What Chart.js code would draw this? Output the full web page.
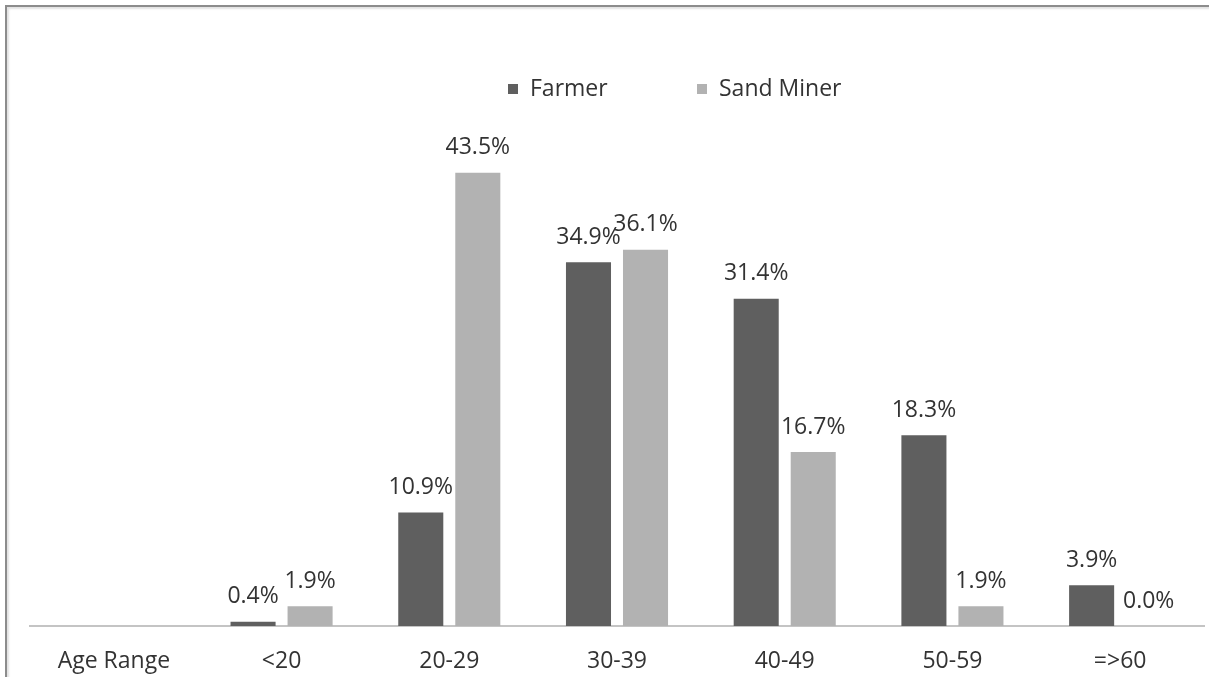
<!DOCTYPE html>
<html>
<head>
<meta charset="utf-8">
<script src="https://cdn.jsdelivr.net/npm/chart.js@4/dist/chart.umd.min.js"></script>
<style>
  html, body { margin: 0; padding: 0; background: #fff; overflow: hidden; }
  #frame {
    position: absolute; left: 5px; top: 5px; width: 1230px; height: 670px;
    border-left: 2px solid #8c8c8c; border-top: 2px solid #8c8c8c;
    border-bottom: 1px solid #e4e4e4;
    box-shadow: inset 2px 2px 2px #e2e2e2;
  }
  #wrap { position: absolute; left: 0; top: 0; width: 1209px; height: 677px; }
</style>
</head>
<body>
<div id="frame"></div>
<div id="wrap"><canvas id="myChart"></canvas></div>
<script>
const categories = ['Age Range', '<20', '20-29', '30-39', '40-49', '50-59', '=>60'];
const farmer = [null, 0.4, 10.9, 34.9, 31.4, 18.3, 3.9];
const sandMiner = [null, 1.9, 43.5, 36.1, 16.7, 1.9, 0.0];

const fontFam = '"Open Sans", sans-serif';
const textColor = '#333333';

// labels on top of each bar
const labelPlugin = {
    id: 'barLabels',
    afterDatasetsDraw(chart) {
        const ctx = chart.ctx;
        ctx.save();
        ctx.font = '23px ' + fontFam;
        ctx.fillStyle = textColor;
        ctx.textAlign = 'center';
        ctx.textBaseline = 'middle';
        chart.data.datasets.forEach((ds, i) => {
            chart.getDatasetMeta(i).data.forEach((bar, j) => {
                const v = ds.data[j];
                if (v === null) return;
                ctx.fillText(v.toFixed(1) + '%', bar.x, bar.y - 25);
            });
        });
        ctx.restore();
    }
};

// legend drawn like the excel one
const legendPlugin = {
    id: 'topLegend',
    afterDraw(chart) {
        const ctx = chart.ctx;
        const xs = [508, 697];
        const y = 89;
        ctx.save();
        ctx.font = '23px ' + fontFam;
        ctx.textBaseline = 'middle';
        chart.data.datasets.forEach((ds, i) => {
            ctx.fillStyle = ds.backgroundColor;
            ctx.fillRect(xs[i], y - 5, 10, 10);
            ctx.fillStyle = textColor;
            ctx.fillText(ds.label, xs[i] + 22, y);
        });
        ctx.restore();
    }
};

new Chart(document.getElementById('myChart'), {
    type: 'bar',
    data: {
        labels: categories,
        datasets: [
            { label: 'Farmer', data: farmer, backgroundColor: '#5f5f5f' },
            { label: 'Sand Miner', data: sandMiner, backgroundColor: '#b2b2b2' }
        ]
    },
    options: {
        responsive: true,
        maintainAspectRatio: false,
        animation: false,
        categoryPercentage: 0.68,
        barPercentage: 0.79,
        layout: { padding: { top: 105, left: 30, right: 5, bottom: 2 } },
        plugins: {
            legend: { display: false },
            tooltip: { enabled: false }
        },
        scales: {
            x: {
                grid: { display: false },
                border: { display: true, color: '#c4c4c4', width: 2 },
                ticks: { color: textColor, font: { family: fontFam, size: 23 }, padding: 14, maxRotation: 0 },
                afterFit(scale) { scale.height = 49; }
            },
            y: {
                display: false,
                min: 0,
                max: 50
            }
        }
    },
    plugins: [labelPlugin, legendPlugin]
});
</script>
</body>
</html>
